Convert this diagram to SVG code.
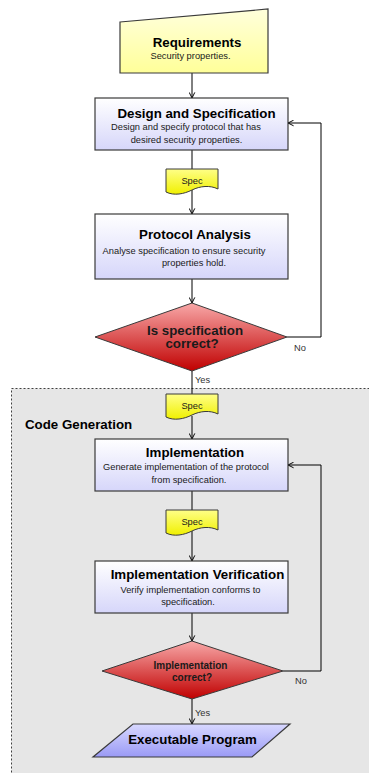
<svg xmlns="http://www.w3.org/2000/svg" width="369" height="773" viewBox="0 0 369 773">
<defs>
<linearGradient id="gBox" x1="0" y1="0" x2="0" y2="1"><stop offset="0" stop-color="#ffffff"/><stop offset="1" stop-color="#d6d6fa"/></linearGradient>
<linearGradient id="gReq" x1="0" y1="0" x2="0" y2="1"><stop offset="0" stop-color="#ffffdc"/><stop offset="1" stop-color="#ffff99"/></linearGradient>
<linearGradient id="gSpec" x1="0" y1="0" x2="0" y2="1"><stop offset="0" stop-color="#ffff88"/><stop offset="1" stop-color="#f0f000"/></linearGradient>
<linearGradient id="gDia" x1="0" y1="0" x2="0" y2="1"><stop offset="0" stop-color="#f8a8a8"/><stop offset="1" stop-color="#c00000"/></linearGradient>
<linearGradient id="gExe" x1="0" y1="0" x2="0" y2="1"><stop offset="0" stop-color="#d8d8ff"/><stop offset="1" stop-color="#9a9af5"/></linearGradient>
<marker id="arr" viewBox="0 0 10 10" refX="9" refY="5" markerWidth="7" markerHeight="7" markerUnits="userSpaceOnUse" orient="auto">
<path d="M1,1 L9,5 L1,9" fill="none" stroke="#000" stroke-width="1.4"/>
</marker>
</defs>
<style>
.box{fill:url(#gBox);stroke:#3a3a3a;stroke-width:1.2}
.spec{fill:url(#gSpec);stroke:#3a3a3a;stroke-width:1}
.dia{fill:url(#gDia);stroke:#3a3a3a;stroke-width:1}
.t{font-family:"Liberation Sans",Arial,sans-serif;font-weight:bold;font-size:13.3px;fill:#000;text-anchor:middle}
.s{font-family:"Liberation Sans",Arial,sans-serif;font-size:9.3px;fill:#1a1a1a;text-anchor:middle}
.dt{font-family:"Liberation Sans",Arial,sans-serif;font-weight:bold;font-size:13.3px;fill:#1a1a1a;text-anchor:middle}
.dt2{font-family:"Liberation Sans",Arial,sans-serif;font-weight:bold;font-size:10px;fill:#1a1a1a;text-anchor:middle}
.lbl{font-family:"Liberation Sans",Arial,sans-serif;font-size:9.3px;fill:#333}
.c{fill:none;stroke:#000;stroke-width:1}
</style>
<g id="code-generation">
<rect x="11.5" y="388.5" width="370" height="400" fill="#e6e6e6" stroke="#404040" stroke-width="1" stroke-dasharray="2,2"/>
<text x="25" y="428.5" font-family="Liberation Sans, Arial, sans-serif" font-weight="bold" font-size="13.3px" fill="#000">Code Generation</text>
</g>
<g id="connectors">
<line class="c" x1="192" y1="73" x2="192" y2="98" marker-end="url(#arr)"/>
<line class="c" x1="192" y1="150" x2="192" y2="170"/>
<line class="c" x1="192" y1="190" x2="192" y2="214" marker-end="url(#arr)"/>
<line class="c" x1="192" y1="279" x2="192" y2="303" marker-end="url(#arr)"/>
<polyline class="c" points="287,337 321,337 321,123 288,123" marker-end="url(#arr)"/>
<line class="c" x1="192" y1="371" x2="192" y2="395"/>
<line class="c" x1="192" y1="416" x2="192" y2="439" marker-end="url(#arr)"/>
<line class="c" x1="192" y1="491" x2="192" y2="511"/>
<line class="c" x1="192" y1="531" x2="192" y2="561" marker-end="url(#arr)"/>
<line class="c" x1="192" y1="613" x2="192" y2="641" marker-end="url(#arr)"/>
<polyline class="c" points="283,671 321,671 321,465 288,465" marker-end="url(#arr)"/>
<line class="c" x1="192" y1="699" x2="192" y2="724" marker-end="url(#arr)"/>
<text class="lbl" x="294" y="351">No</text>
<text class="lbl" x="195" y="382.5">Yes</text>
<text class="lbl" x="295" y="684">No</text>
<text class="lbl" x="195" y="716">Yes</text>
</g>
<g id="requirements">
<polygon points="120,22 268,9 268,73 120,73" fill="url(#gReq)" stroke="#3a3a3a" stroke-width="1.2"/>
<text class="t" x="197" y="46.5">Requirements</text>
<text class="s" x="190.5" y="58.5">Security properties.</text>
</g>
<g id="design">
<rect class="box" x="95" y="98" width="193" height="52"/>
<text class="t" x="196.5" y="118">Design and Specification</text>
<text class="s" x="186" y="130">Design and specify protocol that has</text>
<text class="s" x="186.5" y="142.5">desired security properties.</text>
</g>
<g id="spec1">
<path class="spec" d="M166,169 H218 V189 C210,185 200,186 192,190 C184,194 174,196 166,192 Z"/>
<text class="s" x="192" y="184">Spec</text>
</g>
<g id="protocol-analysis">
<rect class="box" x="95" y="214" width="193" height="65"/>
<text class="t" x="195" y="239">Protocol Analysis</text>
<text class="s" x="184" y="254">Analyse specification to ensure security</text>
<text class="s" x="194" y="266">properties hold.</text>
</g>
<g id="decision1">
<polygon class="dia" points="192,303 287,337 192,371 95,337"/>
<text class="dt" x="195" y="334.5">Is specification</text>
<text class="dt" x="192" y="348">correct?</text>
</g>
<g id="spec2">
<path class="spec" d="M166,394 H218 V414 C210,410 200,411 192,415 C184,419 174,421 166,417 Z"/>
<text class="s" x="192" y="409">Spec</text>
</g>
<g id="implementation">
<rect class="box" x="95" y="439" width="193" height="52"/>
<text class="t" x="195" y="457">Implementation</text>
<text class="s" x="186" y="470">Generate implementation of the protocol</text>
<text class="s" x="189" y="482.5">from specification.</text>
</g>
<g id="spec3">
<path class="spec" d="M166,510 H218 V530 C210,526 200,527 192,531 C184,535 174,537 166,533 Z"/>
<text class="s" x="192" y="525">Spec</text>
</g>
<g id="implementation-verification">
<rect class="box" x="95" y="561" width="193" height="52"/>
<text class="t" x="197.5" y="579">Implementation Verification</text>
<text class="s" x="190.5" y="592.5">Verify implementation conforms to</text>
<text class="s" x="188" y="605">specification.</text>
</g>
<g id="decision2">
<polygon class="dia" points="192,641 283,671 192,699 102,671"/>
<text class="dt2" x="190.5" y="668.5">Implementation</text>
<text class="dt2" x="192" y="681">correct?</text>
</g>
<g id="executable">
<polygon points="133,724 290,724 252,757 93,757" fill="url(#gExe)" stroke="#3a3a3a" stroke-width="1.2"/>
<text class="t" x="192.5" y="744">Executable Program</text>
</g>
</svg>
